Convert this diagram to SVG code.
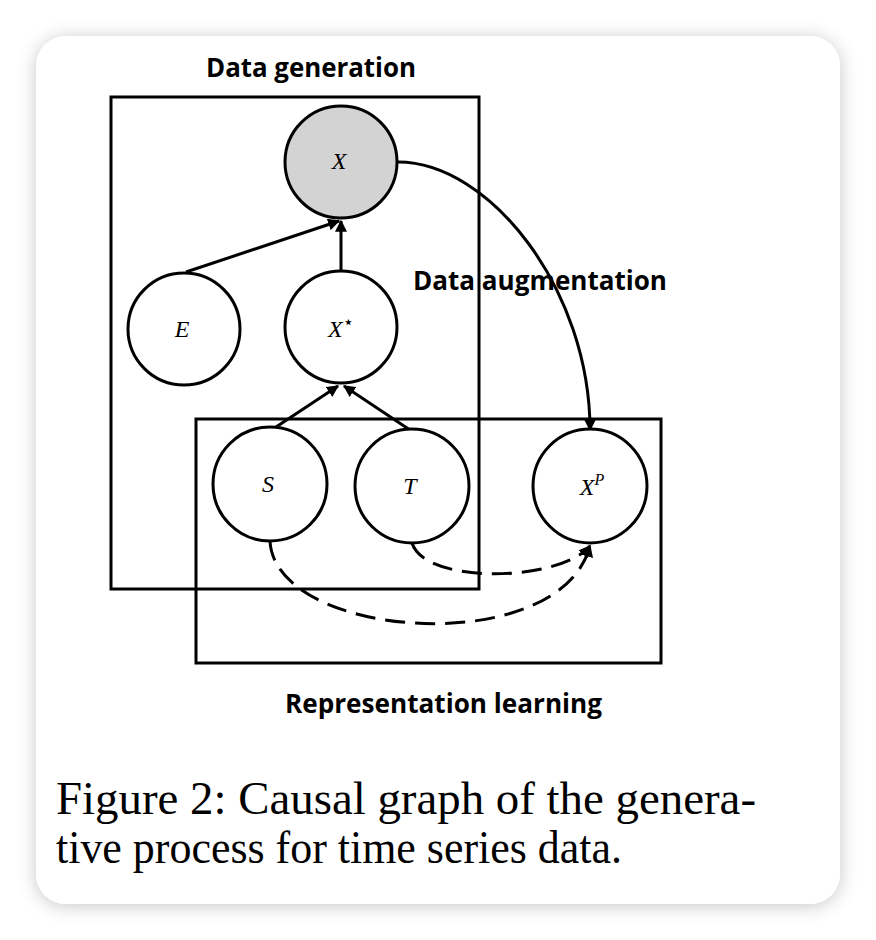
<svg xmlns="http://www.w3.org/2000/svg" width="876" height="940" viewBox="0 0 876 940">
<defs>
<filter id="sh" x="-10%" y="-10%" width="120%" height="120%">
<feDropShadow dx="0" dy="2" stdDeviation="9" flood-color="#000" flood-opacity="0.22"/>
</filter>
<marker id="ah" viewBox="0 0 10 10" refX="9" refY="5" markerWidth="4" markerHeight="4" orient="auto" markerUnits="strokeWidth">
<path d="M0,0 L10,5 L0,10 z" fill="#000"/>
</marker>
<style>
.node{fill:#fff;stroke:#000;stroke-width:3}
.box{fill:none;stroke:#000;stroke-width:3}
.edge{fill:none;stroke:#000;stroke-width:3;marker-end:url(#ah)}
.dash{stroke-dasharray:20 10}
.lbl{font-family:"Liberation Serif",serif;font-style:italic;font-size:24px;text-anchor:middle}
.title{font-family:"Open Sans","Liberation Sans",sans-serif;font-weight:bold;font-size:26px}
.cap{font-family:"Liberation Serif",serif;font-size:46px}
</style>
</defs>
<rect width="876" height="940" fill="#fff"/>
<rect x="36" y="36" width="804" height="868" rx="30" fill="#fff" filter="url(#sh)"/>

<g id="boxes">
<rect class="box" x="111" y="97" width="368" height="492"/>
<rect class="box" x="196" y="419" width="465" height="244"/>
</g>

<g id="labels">
<text class="title" x="206" y="77" textLength="210" lengthAdjust="spacingAndGlyphs">Data generation</text>
<text class="title" x="413" y="290" textLength="254" lengthAdjust="spacingAndGlyphs">Data augmentation</text>
<text class="title" x="285" y="713" textLength="317" lengthAdjust="spacingAndGlyphs">Representation learning</text>
</g>

<g id="connectors">
<path class="edge" d="M186,272 L339,221"/>
<path class="edge" d="M341,272 L341,221"/>
<path class="edge" d="M273,429 L338,386"/>
<path class="edge" d="M410,430 L344,386"/>
<path class="edge" d="M398,162 C490,162 590,290 590,430"/>
<path class="edge dash" d="M270,541 C275,640 560,660 590,546"/>
<path class="edge dash" d="M412,543 C425,585 560,582 590,546"/>
</g>

<g id="node-X">
<circle class="node" cx="341" cy="162" r="56" style="fill:#d3d3d3"/>
<text class="lbl" x="339" y="169">X</text>
</g>
<g id="node-E">
<circle class="node" cx="184" cy="329" r="56"/>
<text class="lbl" x="182" y="337">E</text>
</g>
<g id="node-Xstar">
<circle class="node" cx="341" cy="327" r="56"/>
<text class="lbl" x="341" y="337">X<tspan font-size="18" dy="-9" font-style="normal" font-family="DejaVu Sans,sans-serif">⋆</tspan></text>
</g>
<g id="node-S">
<circle class="node" cx="270" cy="484" r="57"/>
<text class="lbl" x="268" y="492">S</text>
</g>
<g id="node-T">
<circle class="node" cx="412" cy="486" r="57"/>
<text class="lbl" x="410" y="494">T</text>
</g>
<g id="node-XP">
<circle class="node" cx="590" cy="486" r="57"/>
<text class="lbl" x="592" y="495">X<tspan font-size="16" dy="-10">P</tspan></text>
</g>

<g id="caption">
<text class="cap" x="56" y="814" textLength="700" lengthAdjust="spacingAndGlyphs">Figure 2: Causal graph of the genera-</text>
<text class="cap" x="56" y="863" textLength="566" lengthAdjust="spacingAndGlyphs">tive process for time series data.</text>
</g>
</svg>
